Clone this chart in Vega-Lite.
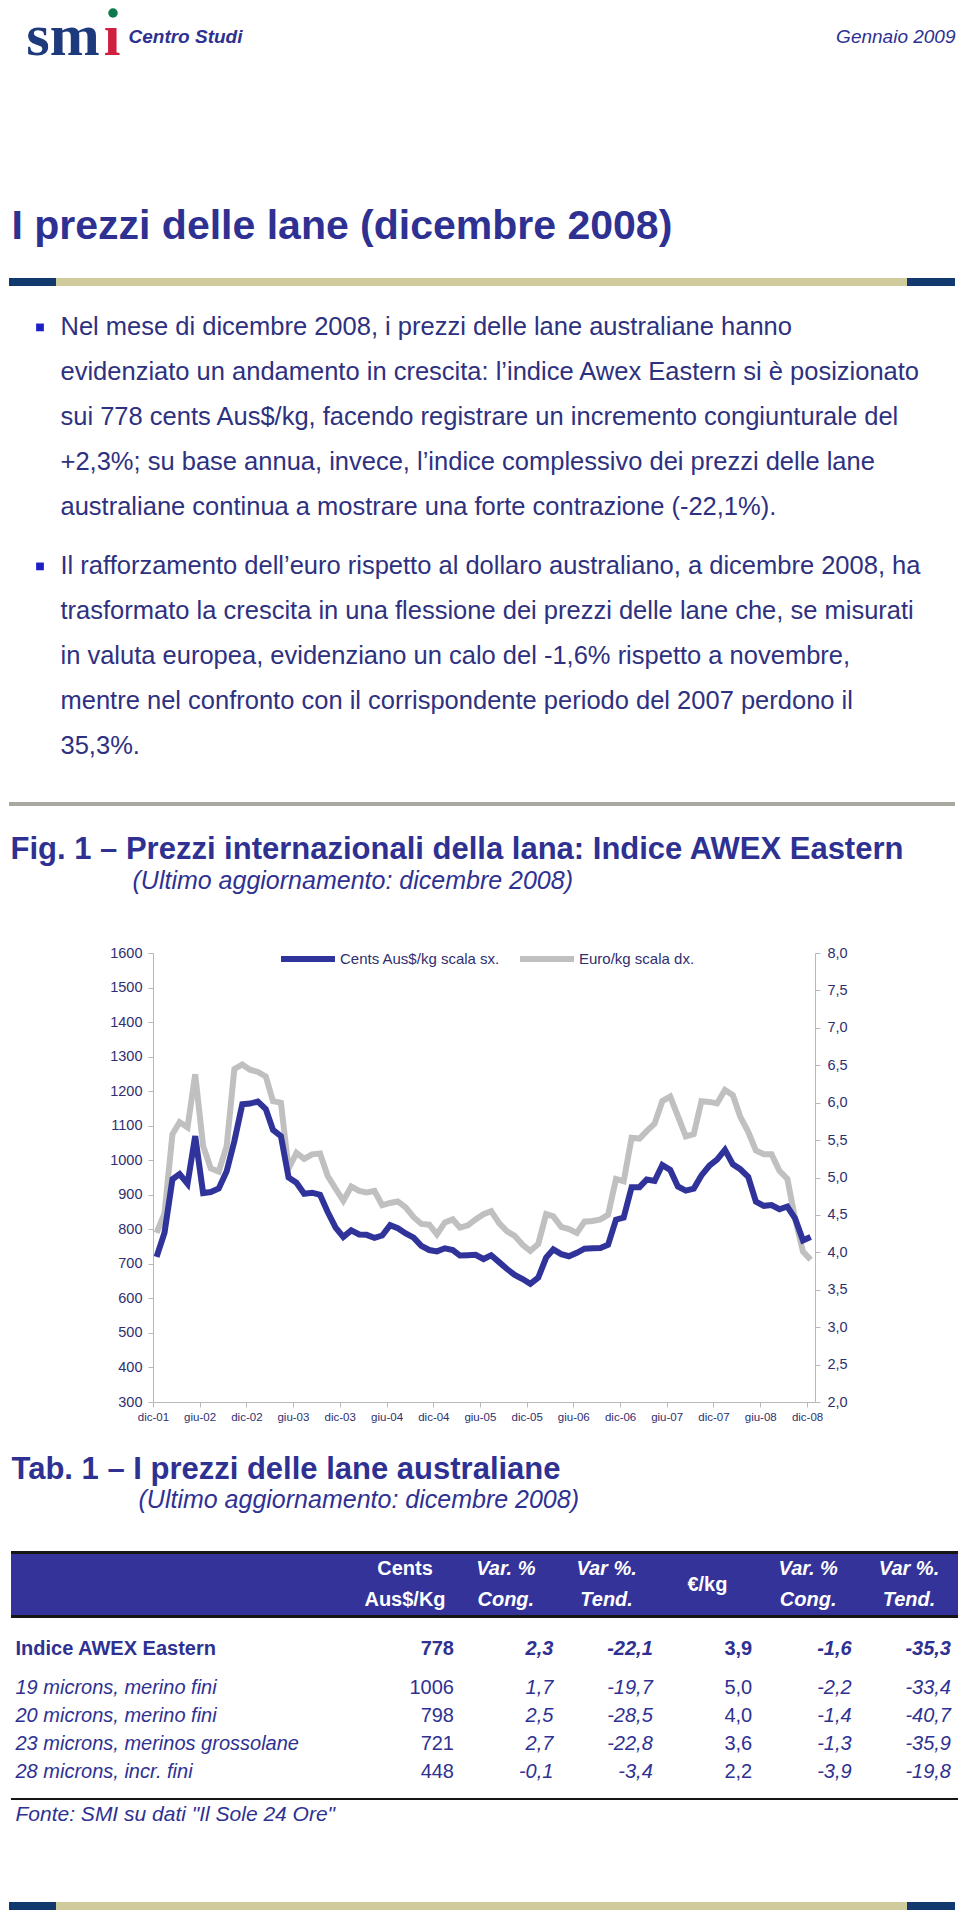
{
"$schema": "https://vega.github.io/schema/vega-lite/v6.json",
"padding": 0,
"background": "white",
"spacing": 0,
"config": {"view": {"stroke": null}, "font": "Liberation Sans", "concat": {"spacing": 0}, "axis": {"labelFont": "Liberation Sans"}, "legend": {"labelFont": "Liberation Sans"}},
"datasets": {
"serie": [
{"mese":"2001-12-15","cents":720,"euro":4.26},{"mese":"2002-01-15","cents":790,"euro":4.52},{"mese":"2002-02-15","cents":945,"euro":5.58},{"mese":"2002-03-15","cents":960,"euro":5.74},{"mese":"2002-04-15","cents":932,"euro":5.67},{"mese":"2002-05-15","cents":1070,"euro":6.38},{"mese":"2002-06-15","cents":905,"euro":5.42},{"mese":"2002-07-15","cents":908,"euro":5.12},{"mese":"2002-08-15","cents":918,"euro":5.08},{"mese":"2002-09-15","cents":968,"euro":5.42},{"mese":"2002-10-15","cents":1055,"euro":6.45},{"mese":"2002-11-15","cents":1162,"euro":6.51},{"mese":"2002-12-15","cents":1164,"euro":6.44},
{"mese":"2003-01-15","cents":1170,"euro":6.41},{"mese":"2003-02-15","cents":1148,"euro":6.35},{"mese":"2003-03-15","cents":1088,"euro":6.02},{"mese":"2003-04-15","cents":1070,"euro":6.00},{"mese":"2003-05-15","cents":950,"euro":5.12},{"mese":"2003-06-15","cents":935,"euro":5.33},{"mese":"2003-07-15","cents":903,"euro":5.25},{"mese":"2003-08-15","cents":906,"euro":5.31},{"mese":"2003-09-15","cents":900,"euro":5.32},{"mese":"2003-10-15","cents":850,"euro":5.02},{"mese":"2003-11-15","cents":805,"euro":4.85},{"mese":"2003-12-15","cents":778,"euro":4.69},
{"mese":"2004-01-15","cents":797,"euro":4.88},{"mese":"2004-02-15","cents":785,"euro":4.82},{"mese":"2004-03-15","cents":784,"euro":4.80},{"mese":"2004-04-15","cents":775,"euro":4.82},{"mese":"2004-05-15","cents":782,"euro":4.63},{"mese":"2004-06-15","cents":812,"euro":4.66},{"mese":"2004-07-15","cents":803,"euro":4.68},{"mese":"2004-08-15","cents":788,"euro":4.60},{"mese":"2004-09-15","cents":776,"euro":4.47},{"mese":"2004-10-15","cents":752,"euro":4.38},{"mese":"2004-11-15","cents":740,"euro":4.37},{"mese":"2004-12-15","cents":736,"euro":4.24},
{"mese":"2005-01-15","cents":745,"euro":4.40},{"mese":"2005-02-15","cents":740,"euro":4.44},{"mese":"2005-03-15","cents":724,"euro":4.33},{"mese":"2005-04-15","cents":725,"euro":4.36},{"mese":"2005-05-15","cents":726,"euro":4.44},{"mese":"2005-06-15","cents":714,"euro":4.51},{"mese":"2005-07-15","cents":725,"euro":4.55},{"mese":"2005-08-15","cents":705,"euro":4.39},{"mese":"2005-09-15","cents":685,"euro":4.28},{"mese":"2005-10-15","cents":668,"euro":4.22},{"mese":"2005-11-15","cents":656,"euro":4.10},{"mese":"2005-12-15","cents":642,"euro":4.02},
{"mese":"2006-01-15","cents":660,"euro":4.11},{"mese":"2006-02-15","cents":718,"euro":4.51},{"mese":"2006-03-15","cents":742,"euro":4.48},{"mese":"2006-04-15","cents":728,"euro":4.34},{"mese":"2006-05-15","cents":722,"euro":4.31},{"mese":"2006-06-15","cents":732,"euro":4.26},{"mese":"2006-07-15","cents":744,"euro":4.41},{"mese":"2006-08-15","cents":745,"euro":4.42},{"mese":"2006-09-15","cents":746,"euro":4.44},{"mese":"2006-10-15","cents":755,"euro":4.50},{"mese":"2006-11-15","cents":828,"euro":4.98},{"mese":"2006-12-15","cents":834,"euro":4.95},
{"mese":"2007-01-15","cents":922,"euro":5.53},{"mese":"2007-02-15","cents":922,"euro":5.52},{"mese":"2007-03-15","cents":944,"euro":5.62},{"mese":"2007-04-15","cents":940,"euro":5.72},{"mese":"2007-05-15","cents":986,"euro":6.02},{"mese":"2007-06-15","cents":972,"euro":6.08},{"mese":"2007-07-15","cents":924,"euro":5.82},{"mese":"2007-08-15","cents":912,"euro":5.55},{"mese":"2007-09-15","cents":918,"euro":5.58},{"mese":"2007-10-15","cents":956,"euro":6.02},{"mese":"2007-11-15","cents":984,"euro":6.01},{"mese":"2007-12-15","cents":1002,"euro":5.99},
{"mese":"2008-01-15","cents":1030,"euro":6.17},{"mese":"2008-02-15","cents":988,"euro":6.10},{"mese":"2008-03-15","cents":974,"euro":5.81},{"mese":"2008-04-15","cents":952,"euro":5.61},{"mese":"2008-05-15","cents":880,"euro":5.36},{"mese":"2008-06-15","cents":868,"euro":5.31},{"mese":"2008-07-15","cents":870,"euro":5.31},{"mese":"2008-08-15","cents":858,"euro":5.09},{"mese":"2008-09-15","cents":866,"euro":4.98},{"mese":"2008-10-15","cents":832,"euro":4.45},{"mese":"2008-11-15","cents":768,"euro":4.01},{"mese":"2008-12-15","cents":778,"euro":3.90}
],
"p1": [
{"line":1,"t":"Nel mese di dicembre 2008, i prezzi delle lane australiane hanno"},
{"line":2,"t":"evidenziato un andamento in crescita: l’indice Awex Eastern si è posizionato"},
{"line":3,"t":"sui 778 cents Aus$/kg, facendo registrare un incremento congiunturale del"},
{"line":4,"t":"+2,3%; su base annua, invece, l’indice complessivo dei prezzi delle lane"},
{"line":5,"t":"australiane continua a mostrare una forte contrazione (-22,1%)."}
],
"p2": [
{"line":1,"t":"Il rafforzamento dell’euro rispetto al dollaro australiano, a dicembre 2008, ha"},
{"line":2,"t":"trasformato la crescita in una flessione dei prezzi delle lane che, se misurati"},
{"line":3,"t":"in valuta europea, evidenziano un calo del -1,6% rispetto a novembre,"},
{"line":4,"t":"mentre nel confronto con il corrispondente periodo del 2007 perdono il"},
{"line":5,"t":"35,3%."}
],
"intest": [
{"col":"c1","line":1,"t":"Cents"},{"col":"c1","line":2,"t":"Aus$/Kg"},
{"col":"c2","line":1,"t":"Var. %"},{"col":"c2","line":2,"t":"Cong."},
{"col":"c3","line":1,"t":"Var %."},{"col":"c3","line":2,"t":"Tend."},
{"col":"c5","line":1,"t":"Var. %"},{"col":"c5","line":2,"t":"Cong."},
{"col":"c6","line":1,"t":"Var %."},{"col":"c6","line":2,"t":"Tend."},
{"col":"c4","t":"€/kg"}
],
"tab": [
{"voce":"Indice AWEX Eastern","c1":"778","c2":"2,3","c3":"-22,1","c4":"3,9","c5":"-1,6","c6":"-35,3"},
{"voce":"19 microns, merino fini","c1":"1006","c2":"1,7","c3":"-19,7","c4":"5,0","c5":"-2,2","c6":"-33,4"},
{"voce":"20 microns, merino fini","c1":"798","c2":"2,5","c3":"-28,5","c4":"4,0","c5":"-1,4","c6":"-40,7"},
{"voce":"23 microns, merinos grossolane","c1":"721","c2":"2,7","c3":"-22,8","c4":"3,6","c5":"-1,3","c6":"-35,9"},
{"voce":"28 microns, incr. fini","c1":"448","c2":"-0,1","c3":"-3,4","c4":"2,2","c5":"-3,9","c6":"-19,8"}
]
},
"vconcat": [
{"bounds":"flush","spacing":0,"hconcat":[
  {"width":24,"height":74,"data":{"values":[]},"mark":"point"},
  {"width":78,"height":74,"data":{"values":[{"t":"sm"}]},"mark":{"type":"text","font":"Liberation Serif","fontWeight":"bold","fontSize":60,"color":"#1d3b7c"},"encoding":{"text":{"field":"t","type":"nominal"}}},
  {"width":20,"height":74,"data":{"values":[{"t":"ı"}]},"layer":[
    {"mark":{"type":"text","font":"Liberation Serif","fontWeight":"bold","fontSize":60,"color":"#d02040"},"encoding":{"text":{"field":"t","type":"nominal"}}},
    {"mark":{"type":"point","shape":"circle","filled":true,"size":90,"opacity":1,"color":"#0e7a4e","xOffset":1,"yOffset":-24},"encoding":{}}
  ]},
  {"width":6,"height":74,"data":{"values":[]},"mark":"point"},
  {"width":1,"height":74,"data":{"values":[{"t":"Centro Studi"}]},"mark":{"type":"text","align":"left","fontSize":19,"fontStyle":"italic","fontWeight":"bold","color":"#2e3192"},"encoding":{"text":{"field":"t","type":"nominal"}}},
  {"width":826,"height":74,"data":{"values":[]},"mark":"point"},
  {"width":1,"height":74,"data":{"values":[{"t":"Gennaio 2009"}]},"mark":{"type":"text","align":"right","fontSize":19,"fontStyle":"italic","color":"#2e3192"},"encoding":{"text":{"field":"t","type":"nominal"}}}
]},
{"width":1,"height":122,"data":{"values":[]},"mark":"point"},
{"bounds":"flush","spacing":0,"hconcat":[
  {"width":11,"height":62,"data":{"values":[]},"mark":"point"},
  {"width":1,"height":62,"data":{"values":[{"t":"I prezzi delle lane (dicembre 2008)"}]},"mark":{"type":"text","align":"left","fontSize":41,"fontWeight":"bold","color":"#2e3192"},"encoding":{"text":{"field":"t","type":"nominal"}}}
]},
{"width":1,"height":20,"data":{"values":[]},"mark":"point"},
{"bounds":"flush","spacing":0,"hconcat":[
  {"width":9,"height":8,"data":{"values":[]},"mark":"point"},
  {"width":47,"height":8,"data":{"values":[]},"mark":"point","view":{"fill":"#12396e","stroke":null}},
  {"width":851,"height":8,"data":{"values":[]},"mark":"point","view":{"fill":"#cfcb9c","stroke":null}},
  {"width":48,"height":8,"data":{"values":[]},"mark":"point","view":{"fill":"#12396e","stroke":null}}
]},
{"width":1,"height":19,"data":{"values":[]},"mark":"point"},
{"bounds":"flush","spacing":0,"hconcat":[
  {"width":36,"height":224,"data":{"values":[]},"mark":"point"},
  {"width":8,"height":224,"data":{"values":[{"line":1}]},"mark":{"type":"point","shape":"square","filled":true,"size":60,"opacity":1,"color":"#1f1fc8"},"encoding":{"y":{"field":"line","type":"ordinal","scale":{"type":"point","domain":[1,2,3,4,5],"padding":0.5},"axis":null}}},
  {"width":16,"height":224,"data":{"values":[]},"mark":"point"},
  {"width":1,"height":224,"data":{"name":"p1"},"mark":{"type":"text","align":"left","fontSize":25.5,"color":"#2e3180"},"encoding":{"y":{"field":"line","type":"ordinal","scale":{"type":"point","padding":0.5},"axis":null},"text":{"field":"t","type":"nominal"}}}
]},
{"width":1,"height":15,"data":{"values":[]},"mark":"point"},
{"bounds":"flush","spacing":0,"hconcat":[
  {"width":36,"height":224,"data":{"values":[]},"mark":"point"},
  {"width":8,"height":224,"data":{"values":[{"line":1}]},"mark":{"type":"point","shape":"square","filled":true,"size":60,"opacity":1,"color":"#1f1fc8"},"encoding":{"y":{"field":"line","type":"ordinal","scale":{"type":"point","domain":[1,2,3,4,5],"padding":0.5},"axis":null}}},
  {"width":16,"height":224,"data":{"values":[]},"mark":"point"},
  {"width":1,"height":224,"data":{"name":"p2"},"mark":{"type":"text","align":"left","fontSize":25.5,"color":"#2e3180"},"encoding":{"y":{"field":"line","type":"ordinal","scale":{"type":"point","padding":0.5},"axis":null},"text":{"field":"t","type":"nominal"}}}
]},
{"width":1,"height":34,"data":{"values":[]},"mark":"point"},
{"bounds":"flush","spacing":0,"hconcat":[
  {"width":9,"height":4,"data":{"values":[]},"mark":"point"},
  {"width":946,"height":4,"data":{"values":[]},"mark":"point","view":{"fill":"#a8a8a0","stroke":null}}
]},
{"width":1,"height":26,"data":{"values":[]},"mark":"point"},
{"bounds":"flush","spacing":0,"hconcat":[
  {"width":10,"height":36,"data":{"values":[]},"mark":"point"},
  {"width":1,"height":36,"data":{"values":[{"t":"Fig. 1 – Prezzi internazionali della lana: Indice AWEX Eastern"}]},"mark":{"type":"text","align":"left","fontSize":31,"fontWeight":"bold","color":"#2e3192"},"encoding":{"text":{"field":"t","type":"nominal"}}}
]},
{"bounds":"flush","spacing":0,"hconcat":[
  {"width":132,"height":26,"data":{"values":[]},"mark":"point"},
  {"width":1,"height":26,"data":{"values":[{"t":"(Ultimo aggiornamento: dicembre 2008)"}]},"mark":{"type":"text","align":"left","fontSize":25,"fontStyle":"italic","color":"#2e3192"},"encoding":{"text":{"field":"t","type":"nominal"}}}
]},
{"width":1,"height":51,"data":{"values":[]},"mark":"point"},
{"bounds":"flush","spacing":0,"hconcat":[
  {"width":153,"height":449,"data":{"values":[]},"mark":"point"},
  {"width":662,"height":449,"data":{"name":"serie"},
   "layer":[
    {"mark":{"type":"line","strokeWidth":6,"color":"#c0c0c0"},
     "encoding":{
      "x":{"field":"mese","type":"temporal","scale":{"type":"utc","domain":[{"year":2001,"month":12,"date":1,"utc":true},{"year":2009,"month":1,"date":1,"utc":true}]},
           "axis":{"title":null,"grid":false,"domainColor":"#b8b8b8","tickColor":"#b8b8b8","tickSize":5,"labelPadding":4,"labelFontSize":11.5,"labelColor":"#2f2f70","labelFlush":false,"labelOverlap":false,
             "values":[{"year":2001,"month":12,"date":1,"utc":true},{"year":2002,"month":6,"date":1,"utc":true},{"year":2002,"month":12,"date":1,"utc":true},{"year":2003,"month":6,"date":1,"utc":true},{"year":2003,"month":12,"date":1,"utc":true},{"year":2004,"month":6,"date":1,"utc":true},{"year":2004,"month":12,"date":1,"utc":true},{"year":2005,"month":6,"date":1,"utc":true},{"year":2005,"month":12,"date":1,"utc":true},{"year":2006,"month":6,"date":1,"utc":true},{"year":2006,"month":12,"date":1,"utc":true},{"year":2007,"month":6,"date":1,"utc":true},{"year":2007,"month":12,"date":1,"utc":true},{"year":2008,"month":6,"date":1,"utc":true},{"year":2008,"month":12,"date":1,"utc":true}],
             "labelExpr":"(utcmonth(datum.value) == 11 ? 'dic-' : 'giu-') + utcFormat(datum.value, '%y')"}},
      "y":{"field":"euro","type":"quantitative","scale":{"domain":[2,8],"zero":false,"nice":false},
           "axis":{"orient":"right","title":null,"grid":false,"values":[2,2.5,3,3.5,4,4.5,5,5.5,6,6.5,7,7.5,8],"labelExpr":"replace(format(datum.value,'.1f'),'.',',')","domainColor":"#b8b8b8","tickColor":"#b8b8b8","tickSize":5,"labelPadding":7,"labelFontSize":14.5,"labelColor":"#2f2f70"}},
      "color":{"datum":"Euro/kg scala dx.","type":"nominal","scale":{"domain":["Cents Aus$/kg scala sx.","Euro/kg scala dx."],"range":["#30339a","#c0c0c0"]},
           "legend":{"orient":"none","legendX":278,"legendY":929,"direction":"horizontal","title":null,"symbolType":"stroke","symbolSize":2916,"symbolStrokeWidth":6,"labelFontSize":15,"labelColor":"#2f2f70","labelOffset":2,"columnPadding":7,"labelLimit":400}}
     }},
    {"mark":{"type":"line","strokeWidth":6,"color":"#30339a"},
     "encoding":{
      "x":{"field":"mese","type":"temporal"},
      "y":{"field":"cents","type":"quantitative","scale":{"domain":[300,1600],"zero":false,"nice":false},
           "axis":{"orient":"left","title":null,"grid":false,"values":[300,400,500,600,700,800,900,1000,1100,1200,1300,1400,1500,1600],"format":"d","domainColor":"#b8b8b8","tickColor":"#b8b8b8","tickSize":5,"labelPadding":6,"labelFontSize":14.5,"labelColor":"#2f2f70"}},
      "color":{"datum":"Cents Aus$/kg scala sx.","type":"nominal","scale":{"domain":["Cents Aus$/kg scala sx.","Euro/kg scala dx."],"range":["#30339a","#c0c0c0"]},
           "legend":{"orient":"none","legendX":278,"legendY":929,"direction":"horizontal","title":null,"symbolType":"stroke","symbolSize":2916,"symbolStrokeWidth":6,"labelFontSize":15,"labelColor":"#2f2f70","labelOffset":2,"columnPadding":7,"labelLimit":400}}
     }}
   ],
   "resolve":{"scale":{"y":"independent"}}
  }
]},
{"width":1,"height":30,"data":{"values":[]},"mark":"point"},
{"bounds":"flush","spacing":0,"hconcat":[
  {"width":11,"height":34,"data":{"values":[]},"mark":"point"},
  {"width":1,"height":34,"data":{"values":[{"t":"Tab. 1 – I prezzi delle lane australiane"}]},"mark":{"type":"text","align":"left","fontSize":31,"fontWeight":"bold","color":"#2e3192"},"encoding":{"text":{"field":"t","type":"nominal"}}}
]},
{"bounds":"flush","spacing":0,"hconcat":[
  {"width":138,"height":25,"data":{"values":[]},"mark":"point"},
  {"width":1,"height":25,"data":{"values":[{"t":"(Ultimo aggiornamento: dicembre 2008)"}]},"mark":{"type":"text","align":"left","fontSize":25,"fontStyle":"italic","color":"#2e3192"},"encoding":{"text":{"field":"t","type":"nominal"}}}
]},
{"width":1,"height":38,"data":{"values":[]},"mark":"point"},
{"bounds":"flush","spacing":0,"hconcat":[
  {"width":11,"height":3,"data":{"values":[]},"mark":"point"},
  {"width":947,"height":3,"data":{"values":[]},"mark":"point","view":{"fill":"#161616","stroke":null}}
]},
{"bounds":"flush","spacing":0,"hconcat":[
  {"width":11,"height":61,"data":{"values":[]},"mark":"point"},
  {"width":947,"height":61,"view":{"fill":"#333399","stroke":null},"data":{"name":"intest"},
   "layer":[
    {"transform":[{"filter":"datum.col == 'c1'"}],"mark":{"type":"text","fontSize":20,"fontWeight":"bold","color":"white"},
     "encoding":{"x":{"field":"col","type":"nominal","scale":{"type":"point","domain":["c1","c2","c3","c4","c5","c6"],"range":[394,898],"padding":0},"axis":null},
                 "y":{"field":"line","type":"ordinal","scale":{"type":"point","domain":[1,2],"padding":0.5},"axis":null},
                 "text":{"field":"t","type":"nominal"}}},
    {"transform":[{"filter":"datum.col != 'c1' && datum.col != 'c4'"}],"mark":{"type":"text","fontSize":20,"fontWeight":"bold","fontStyle":"italic","color":"white"},
     "encoding":{"x":{"field":"col","type":"nominal"},
                 "y":{"field":"line","type":"ordinal"},
                 "text":{"field":"t","type":"nominal"}}},
    {"transform":[{"filter":"datum.col == 'c4'"}],"mark":{"type":"text","fontSize":20,"fontWeight":"bold","color":"white"},
     "encoding":{"x":{"field":"col","type":"nominal"},
                 "text":{"field":"t","type":"nominal"}}}
   ]}
]},
{"bounds":"flush","spacing":0,"hconcat":[
  {"width":11,"height":3,"data":{"values":[]},"mark":"point"},
  {"width":947,"height":3,"data":{"values":[]},"mark":"point","view":{"fill":"#161616","stroke":null}}
]},
{"width":1,"height":14,"data":{"values":[]},"mark":"point"},
{"bounds":"flush","spacing":0,"hconcat":[
  {"width":15,"height":34,"data":{"values":[]},"mark":"point"},
  {"width":1,"height":34,"data":{"name":"tab"},"transform":[{"filter":"datum.voce == 'Indice AWEX Eastern'"}],"mark":{"type":"text","align":"left","fontSize":20,"fontWeight":"bold","color":"#2e3192"},"encoding":{"text":{"field":"voce","type":"nominal"}}},
  {"width":944,"height":34,"data":{"name":"tab"},
   "transform":[{"filter":"datum.voce == 'Indice AWEX Eastern'"},{"fold":["c1","c2","c3","c4","c5","c6"],"as":["col","val"]}],
   "layer":[
    {"transform":[{"filter":"datum.col == 'c1' || datum.col == 'c4'"}],"mark":{"type":"text","align":"right","fontSize":20,"fontWeight":"bold","color":"#2e3192"},
     "encoding":{"x":{"field":"col","type":"nominal","scale":{"type":"point","domain":["c1","c2","c3","c4","c5","c6"],"range":[438,935],"padding":0},"axis":null},"text":{"field":"val","type":"nominal"}}},
    {"transform":[{"filter":"datum.col != 'c1' && datum.col != 'c4'"}],"mark":{"type":"text","align":"right","fontSize":20,"fontWeight":"bold","fontStyle":"italic","color":"#2e3192"},
     "encoding":{"x":{"field":"col","type":"nominal"},"text":{"field":"val","type":"nominal"}}}
   ]}
]},
{"width":1,"height":8,"data":{"values":[]},"mark":"point"},
{"bounds":"flush","spacing":0,"hconcat":[
  {"width":15,"height":112,"data":{"values":[]},"mark":"point"},
  {"width":1,"height":112,"data":{"name":"tab"},"transform":[{"filter":"datum.voce != 'Indice AWEX Eastern'"}],"mark":{"type":"text","align":"left","fontSize":20,"fontStyle":"italic","color":"#2e3192"},
   "encoding":{"y":{"field":"voce","type":"nominal","sort":null,"scale":{"type":"point","padding":0.5},"axis":null},"text":{"field":"voce","type":"nominal"}}},
  {"width":944,"height":112,"data":{"name":"tab"},
   "transform":[{"filter":"datum.voce != 'Indice AWEX Eastern'"},{"fold":["c1","c2","c3","c4","c5","c6"],"as":["col","val"]}],
   "layer":[
    {"transform":[{"filter":"datum.col == 'c1' || datum.col == 'c4'"}],"mark":{"type":"text","align":"right","fontSize":20,"color":"#2e3192"},
     "encoding":{"x":{"field":"col","type":"nominal","scale":{"type":"point","domain":["c1","c2","c3","c4","c5","c6"],"range":[438,935],"padding":0},"axis":null},
                 "y":{"field":"voce","type":"nominal","sort":null,"scale":{"type":"point","padding":0.5,"domain":["19 microns, merino fini","20 microns, merino fini","23 microns, merinos grossolane","28 microns, incr. fini"]},"axis":null},
                 "text":{"field":"val","type":"nominal"}}},
    {"transform":[{"filter":"datum.col != 'c1' && datum.col != 'c4'"}],"mark":{"type":"text","align":"right","fontSize":20,"fontStyle":"italic","color":"#2e3192"},
     "encoding":{"x":{"field":"col","type":"nominal"},"y":{"field":"voce","type":"nominal","sort":null},"text":{"field":"val","type":"nominal"}}}
   ]}
]},
{"width":1,"height":12,"data":{"values":[]},"mark":"point"},
{"bounds":"flush","spacing":0,"hconcat":[
  {"width":11,"height":2,"data":{"values":[]},"mark":"point"},
  {"width":947,"height":2,"data":{"values":[]},"mark":"point","view":{"fill":"#161616","stroke":null}}
]},
{"width":1,"height":2,"data":{"values":[]},"mark":"point"},
{"bounds":"flush","spacing":0,"hconcat":[
  {"width":15,"height":26,"data":{"values":[]},"mark":"point"},
  {"width":1,"height":26,"data":{"values":[{"t":"Fonte: SMI su dati \"Il Sole 24 Ore\""}]},"mark":{"type":"text","align":"left","fontSize":21,"fontStyle":"italic","color":"#2e3192"},"encoding":{"text":{"field":"t","type":"nominal"}}}
]},
{"width":1,"height":74,"data":{"values":[]},"mark":"point"},
{"bounds":"flush","spacing":0,"hconcat":[
  {"width":9,"height":8,"data":{"values":[]},"mark":"point"},
  {"width":47,"height":8,"data":{"values":[]},"mark":"point","view":{"fill":"#12396e","stroke":null}},
  {"width":851,"height":8,"data":{"values":[]},"mark":"point","view":{"fill":"#cfcb9c","stroke":null}},
  {"width":48,"height":8,"data":{"values":[]},"mark":"point","view":{"fill":"#12396e","stroke":null}}
]},
{"width":1,"height":10,"data":{"values":[]},"mark":"point"}
]
}
